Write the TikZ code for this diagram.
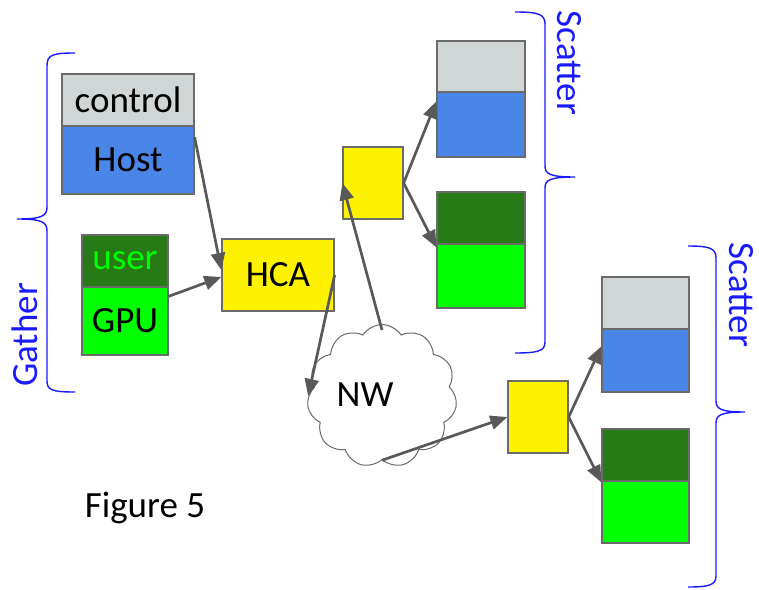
\documentclass[tikz,border=0pt]{standalone}
\usepackage{fontspec}
\setmainfont{Carlito}
\usetikzlibrary{arrows.meta,shapes.symbols}
\definecolor{ctrlgray}{HTML}{D0D5D5}
\definecolor{hostblue}{HTML}{4A86E8}
\definecolor{darkgreen}{HTML}{277A15}
\definecolor{brightgreen}{HTML}{00FF00}
\definecolor{bordergray}{HTML}{6A6A6A}
\definecolor{arrowgray}{HTML}{595959}
\definecolor{braceblue}{HTML}{1A1AFF}
\tikzset{
  mem/.style={draw=bordergray, line width=1.3pt, inner sep=0pt, font=\fontsize{37}{44}\selectfont},
  link/.style={draw=arrowgray, line width=2.7pt, -{Triangle[length=17pt,width=14pt]}},
  brace/.style={draw=braceblue, line width=1.4pt},
  bracelabel/.style={text=braceblue, font=\fontsize{37}{44}\selectfont, inner sep=0pt},
}
\begin{document}
\begin{tikzpicture}[x=1pt,y=-1pt]
\useasboundingbox (0,0) rectangle (759,589);
% gather side
\node[mem, fill=ctrlgray, minimum width=132pt, minimum height=52pt] (ctrl) at (128,100) {control};
\node[mem, fill=hostblue, minimum width=132pt, minimum height=68pt] (host) at (128,160) {Host};
\node[mem, fill=darkgreen, text=brightgreen, minimum width=86pt, minimum height=52pt] (user) at (125,261) {user};
\node[mem, fill=brightgreen, minimum width=86pt, minimum height=68pt] (gpu) at (125,321) {GPU};
\node[mem, fill=yellow, minimum width=112pt, minimum height=72pt] (hca) at (278,275) {HCA};
% network
\node[cloud, cloud puffs=11, cloud puff arc=115, draw=bordergray, fill=white, line width=1pt,
      minimum width=150pt, minimum height=143pt, inner sep=0pt] (nw) at (382,396) {};
\node[font=\fontsize{37}{44}\selectfont, inner sep=0pt] (nwlabel) at (365,395) {NW};
% receiving HCAs
\node[mem, fill=yellow, minimum width=60pt, minimum height=72pt] (mid) at (373,183) {};
\node[mem, fill=yellow, minimum width=60pt, minimum height=72pt] (bot) at (538,417) {};
% scatter group 1
\node[mem, fill=ctrlgray, minimum width=88pt, minimum height=51pt] (actrl) at (481,66.5) {};
\node[mem, fill=hostblue, minimum width=88pt, minimum height=65pt] (ahost) at (481,124.5) {};
\node[mem, fill=darkgreen, minimum width=88pt, minimum height=52pt] (auser) at (481,218) {};
\node[mem, fill=brightgreen, minimum width=88pt, minimum height=64pt] (agpu) at (481,276) {};
% scatter group 2
\node[mem, fill=ctrlgray, minimum width=87pt, minimum height=52pt] (bctrl) at (645.5,303) {};
\node[mem, fill=hostblue, minimum width=87pt, minimum height=63pt] (bhost) at (645.5,360.5) {};
\node[mem, fill=darkgreen, minimum width=87pt, minimum height=52pt] (buser) at (645.5,455) {};
\node[mem, fill=brightgreen, minimum width=87pt, minimum height=62pt] (bgpu) at (645.5,512) {};
% arrows
\draw[link] ([yshift=-12pt]host.north east) -- ([yshift=5pt]hca.west);
\draw[link] ([yshift=-10pt]gpu.north east) -- ([yshift=-2pt]hca.west);
\draw[link] (hca.east) -- (nw.west);
\draw[link] ([yshift=-6pt]nw.north) -- (mid.west);
\draw[link] (nw.south) -- (bot.west);
\draw[link] (mid.east) -- ([yshift=-10pt]ahost.north west);
\draw[link] (mid.east) -- ([yshift=-4pt]agpu.north west);
\draw[link] (bot.east) -- ([yshift=-18pt]bhost.north west);
\draw[link] (bot.east) -- ([yshift=-2pt]bgpu.north west);
% braces
\draw[brace] (75,53) .. controls (52,53) and (47,55) .. (47,66) -- (47,207)
  .. controls (47,216) and (42,219) .. (17,219)
  .. controls (42,219) and (47,222) .. (47,231) -- (47,381)
  .. controls (47,390) and (52,392) .. (75,392);
\draw[brace] (515,12) .. controls (538,12) and (545,14) .. (545,24) -- (545,166)
  .. controls (545,174) and (550,177) .. (575,177)
  .. controls (550,177) and (545,180) .. (545,188) -- (545,342)
  .. controls (545,351) and (538,353) .. (515,353);
\draw[brace] (688,246) .. controls (709,246) and (716,248) .. (716,258) -- (716,401)
  .. controls (716,409) and (721,412) .. (745,412)
  .. controls (721,412) and (716,415) .. (716,423) -- (716,576)
  .. controls (716,585) and (709,587) .. (688,587);
\node[bracelabel, rotate=90] (gather) at (25,335) {Gather};
\node[bracelabel, rotate=-90] (scatterA) at (569,63) {Scatter};
\node[bracelabel, rotate=-90] (scatterB) at (741,295) {Scatter};
\node[font=\fontsize{37}{44}\selectfont, inner sep=0pt] (fig) at (145,508) {Figure 5};
\end{tikzpicture}
\end{document}
